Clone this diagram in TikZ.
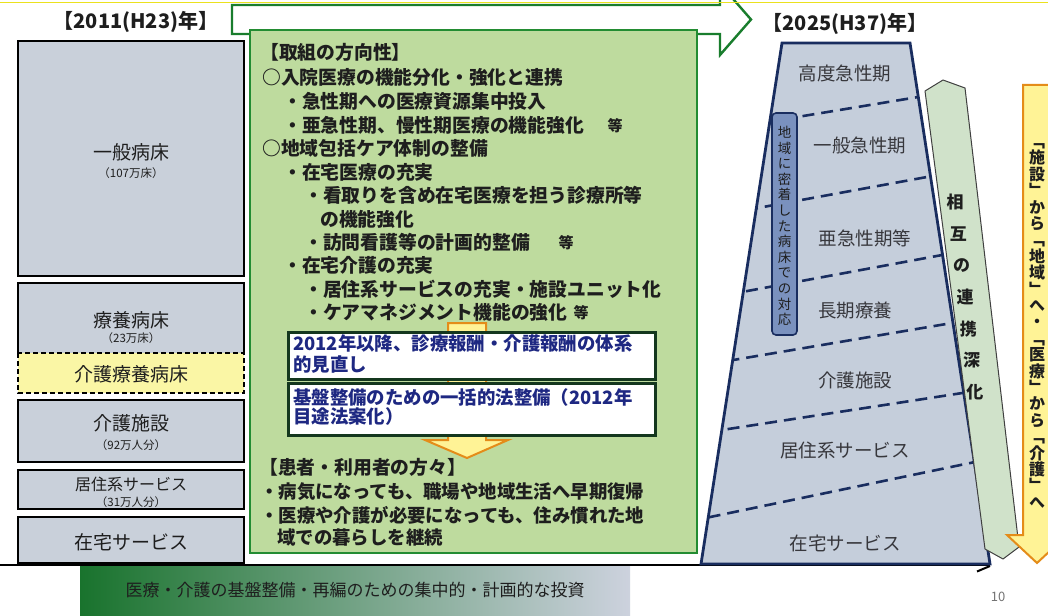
\documentclass[tikz,border=0pt]{standalone}
\usepackage{fontspec}
\setmainfont{Noto Sans CJK JP}
\newfontfamily\vertfont[RawFeature=+vert]{Noto Sans CJK JP}
\definecolor{grayfill}{RGB}{201,208,218}
\definecolor{trapfill}{RGB}{197,206,219}
\definecolor{kaigoyellow}{RGB}{250,246,165}
\definecolor{panelgreen}{RGB}{190,219,158}
\definecolor{panelborder}{RGB}{35,140,50}
\definecolor{arrowgreen}{RGB}{25,125,45}
\definecolor{navy}{RGB}{25,45,95}
\definecolor{bluebox}{RGB}{122,145,190}
\definecolor{bandfill}{RGB}{208,226,202}
\definecolor{orangeline}{RGB}{228,140,25}
\definecolor{orangefill}{RGB}{255,243,150}
\definecolor{bluetext}{RGB}{30,40,130}
\definecolor{boxborder}{RGB}{20,55,30}
\definecolor{darktext}{RGB}{30,30,30}
\definecolor{labeltext}{RGB}{55,55,60}
\definecolor{barleft}{RGB}{25,115,45}
\definecolor{barmid}{RGB}{80,150,90}
\definecolor{barright}{RGB}{205,210,222}
\definecolor{topyellow}{RGB}{235,225,30}
\tikzset{
  colbox/.style={draw=black, line width=1.4pt, fill=grayfill},
  lbl/.style={inner sep=0, font=\fontsize{19}{22}\selectfont, text=darktext},
  sml/.style={inner sep=0, font=\fontsize{11.5}{13}\selectfont, text=darktext},
  ptxt/.style={anchor=west, inner sep=0, font=\fontsize{18.8}{22}\selectfont\bfseries, text=darktext},
  etc/.style={inner sep=0, font=\fontsize{15}{17}\selectfont\bfseries, text=darktext},
  btxt/.style={anchor=north west, inner sep=0, align=left, font=\fontsize{18.4}{22}\selectfont\bfseries, text=bluetext},
  trlbl/.style={inner sep=0, font=\fontsize{18.5}{22}\selectfont, text=labeltext},
  titletxt/.style={inner sep=0, font=\fontsize{20}{24}\selectfont\bfseries, text=darktext},
  dline/.style={draw=navy, line width=2.6pt, dash pattern=on 12pt off 7pt},
}
\begin{document}
\begin{tikzpicture}[x=1pt,y=-1pt]
\useasboundingbox (0,0) rectangle (1048,615);
\clip (0,0) rectangle (1048,615);
\fill[white] (0,0) rectangle (1048,615);

% big green arrow at top
\draw[arrowgreen, line width=2.4pt, fill=white, line join=miter]
  (232,5) -- (720,5) -- (720,-16) -- (751,19.5) -- (720,55) -- (720,34) -- (232,34) -- cycle;
\draw[topyellow, line width=1.3pt] (0,2.5) -- (1048,2.5);

% titles
\node[titletxt] (t2011) at (136,22) {【2011(H23)年】};
\node[titletxt] (t2025) at (845,24) {【2025(H37)年】};

% left column
\draw[colbox] (18,41) rectangle (244,276);
\node[lbl] (ippan) at (131,152) {一般病床};
\node[sml] (ippann) at (131,173) {（107万床）};

\fill[grayfill] (18,283) rectangle (244,353);
\draw[black, line width=1.4pt] (18,353) -- (18,283) -- (244,283) -- (244,353);
\fill[kaigoyellow] (18,353) rectangle (244,393);
\draw[black, line width=1.2pt, dash pattern=on 5pt off 3pt] (18,353) rectangle (244,393);
\node[lbl] (ryoyo) at (131,320) {療養病床};
\node[sml] (ryoyon) at (131,338) {（23万床）};
\node[lbl] (kaigoryoyo) at (131,374) {介護療養病床};

\draw[colbox] (18,400) rectangle (244,462);
\node[lbl] (kaigoshisetsu) at (131,423) {介護施設};
\node[sml] (kaigon) at (131,445) {（92万人分）};

\draw[colbox] (18,470) rectangle (244,509);
\node[inner sep=0, font=\fontsize{16}{18}\selectfont, text=darktext] (kyoju) at (131,484) {居住系サービス};
\node[sml] (kyojun) at (131,502) {（31万人分）};

\draw[colbox] (18,517) rectangle (244,563);
\node[lbl] (zaitaku) at (131,542) {在宅サービス};

% baseline
\draw[black, line width=2pt] (0,564.5) -- (990,564.5);
\draw[black, line width=2pt] (977,571.5) -- (990,566);

% bottom bar
\shade[left color=barleft, middle color=barmid, right color=barright] (80,566) rectangle (630,615);
\node[inner sep=0, font=\fontsize{17}{20}\selectfont, text=darktext] (bar) at (355,590) {医療・介護の基盤整備・再編のための集中的・計画的な投資};

% middle panel
\draw[panelborder, line width=2.6pt, fill=panelgreen] (250,30) rectangle (697,553);
\node[ptxt] (p1) at (260,52) {【取組の方向性】};
\node[ptxt] (p2) at (262,77) {○入院医療の機能分化・強化と連携};
\node[ptxt] (p3) at (283,101) {・急性期への医療資源集中投入};
\node[ptxt] (p4) at (283,125) {・亜急性期、慢性期医療の機能強化};
\node[etc] (p4e) at (615,126) {等};
\node[ptxt] (p5) at (262,148) {○地域包括ケア体制の整備};
\node[ptxt] (p6) at (283,172) {・在宅医療の充実};
\node[ptxt] (p7) at (304,195) {・看取りを含め在宅医療を担う診療所等};
\node[ptxt] (p8) at (320,219) {の機能強化};
\node[ptxt] (p9) at (304,242) {・訪問看護等の計画的整備};
\node[etc] (p9e) at (566,243) {等};
\node[ptxt] (p10) at (283,265) {・在宅介護の充実};
\node[ptxt] (p11) at (304,289) {・居住系サービスの充実・施設ユニット化};
\node[ptxt] (p12) at (304,312) {・ケアマネジメント機能の強化};
\node[etc] (p12e) at (581,313) {等};

% orange arrow inside panel
\draw[orangeline, line width=2pt, fill=orangefill, line join=miter]
  (448,323) -- (486,323) -- (486,440) -- (508,440) -- (467,458) -- (425,440) -- (448,440) -- cycle;

% white boxes
\draw[boxborder, line width=3pt, fill=white] (288,332) rectangle (655,379);
\node[btxt] (box1) at (293,334) {2012年以降、診療報酬・介護報酬の体系\\[-1pt]的見直し};
\draw[boxborder, line width=3pt, fill=white] (288,383) rectangle (655,435);
\node[btxt] (box2) at (293,388) {基盤整備のための一括的法整備（2012年\\[-3pt]目途法案化）};

\node[ptxt] (q1) at (259,467) {【患者・利用者の方々】};
\node[ptxt, font=\fontsize{18.4}{22}\selectfont\bfseries] (q2) at (260,492) {・病気になっても、職場や地域生活へ早期復帰};
\node[ptxt, font=\fontsize{18.4}{22}\selectfont\bfseries] (q3) at (260,515) {・医療や介護が必要になっても、住み慣れた地};
\node[ptxt, font=\fontsize{18.4}{22}\selectfont\bfseries] (q4) at (277,538) {域での暮らしを継続};

% trapezoid
\fill[trapfill] (782,43) -- (910,43) -- (990,564) -- (701,564) -- cycle;
\begin{scope}
  \clip (782,43) -- (910,43) -- (990,564) -- (701,564) -- cycle;
  \draw[dline] (690,134.7) -- (1000,83.5);
  \draw[dline] (690,220.4) -- (1000,163.6);
  \draw[dline] (690,301.6) -- (1000,244.3);
  \draw[dline] (690,367.3) -- (1000,314.9);
  \draw[dline] (690,434.9) -- (1000,387.2);
  \draw[dline] (690,521.2) -- (1000,456.8);
\end{scope}
\draw[navy, line width=2.8pt, line join=miter] (782,43) -- (910,43) -- (990,564) -- (701,564) -- cycle;

\node[trlbl] (koudo) at (845,73) {高度急性期};
\node[trlbl] (ippankyu) at (860,145) {一般急性期};
\node[trlbl] (akyu) at (865,238) {亜急性期等};
\node[trlbl] (choki) at (855,310) {長期療養};
\node[trlbl] (kaigo2) at (855,380) {介護施設};
\node[trlbl] (kyoju2) at (845,450) {居住系サービス};
\node[trlbl] (zaitaku2) at (845,543) {在宅サービス};

% blue vertical box
\draw[navy, line width=1.6pt, fill=bluebox, rounded corners=4pt] (772,113) rectangle (797,335);
\node[inner sep=0, align=center, font=\fontsize{13.5}{15.6}\selectfont, text=darktext] (mitchaku) at (784.5,226)
  {地\\域\\に\\密\\着\\し\\た\\病\\床\\で\\の\\対\\応};

% green band
\draw[black!75, line width=1pt, fill=bandfill, line join=round]
  (943,80) -- (965,88) -- (1019,547) -- (1003,559) -- (985,549) -- (925,91) -- cycle;
\foreach \c [count=\i] in {相,互,の,連,携,深,化}
  \node[inner sep=0, font=\fontsize{17}{20}\selectfont\bfseries, text=darktext] (band\i) at ({955+3.33*(\i-1)},{202+31.67*(\i-1)}) {\c};

% orange arrow right
\draw[orangeline, line width=2pt, fill=orangefill, line join=miter]
  (1023,85) -- (1051,85) -- (1051,535) -- (1067,535) -- (1037,563) -- (1007,535) -- (1023,535) -- cycle;
\node[inner sep=0, align=center, font=\vertfont\fontsize{16}{16.4}\selectfont\bfseries, text=darktext] (shift) at (1037,326)
  {「\\施\\設\\」\\か\\ら\\「\\地\\域\\」\\へ\\・\\「\\医\\療\\」\\か\\ら\\「\\介\\護\\」\\へ};

% page number
\node[inner sep=0, font=\fontsize{13}{15}\selectfont, text=black!55] (page) at (998,597) {10};
\end{tikzpicture}
\end{document}
